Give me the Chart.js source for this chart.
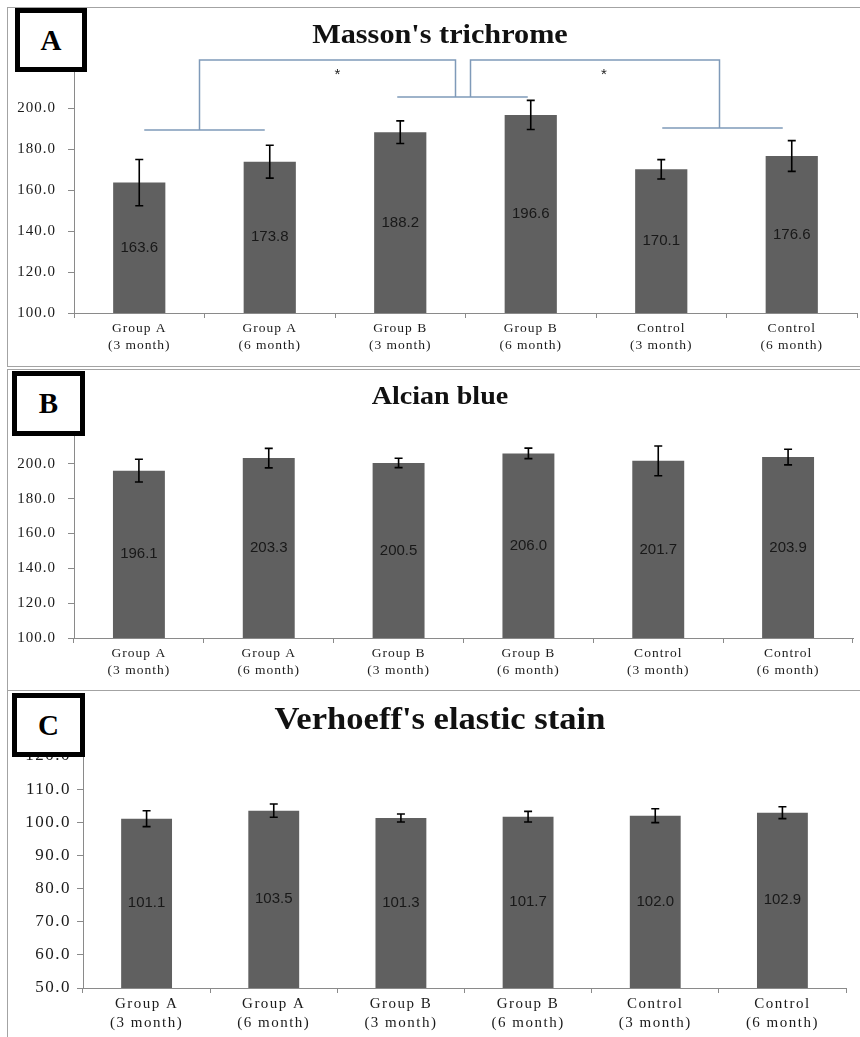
<!DOCTYPE html>
<html>
<head>
<meta charset="utf-8">
<script src="https://cdn.jsdelivr.net/npm/chart.js@4.4.0/dist/chart.umd.min.js"></script>
<style>
  html, body { margin: 0; padding: 0; background: #fff; }
  body { width: 860px; height: 1037px; position: relative; overflow: hidden; }
  .panel { position: absolute; box-sizing: border-box; border: 1px solid #a3a3a3; }
  canvas { position: absolute; }
  .tag {
    position: absolute; box-sizing: border-box; border: 5px solid #000; background: #fff;
    display: flex; align-items: center; justify-content: center;
    font: bold 29px "Liberation Serif", "Times New Roman", serif; line-height: 1; color: #000;
  }
  .title {
    position: absolute; left: 0; width: 880px; text-align: center;
    font-family: "Liberation Serif", "Times New Roman", serif; font-weight: bold;
    color: #111; line-height: 1; transform: scaleX(1.08); transform-origin: 440px 50%;
    white-space: nowrap;
  }
</style>
</head>
<body>
<div class="panel" style="left:7px;top:7px;width:860px;height:360px;"></div>
<div class="panel" style="left:7px;top:369px;width:860px;height:322px;"></div>
<div class="panel" style="left:7px;top:690px;width:860px;height:400px;border-top:none;"></div>

<canvas id="cA" width="852" height="357" style="left:8px;top:8px;"></canvas>
<canvas id="cB" width="852" height="319" style="left:8px;top:370px;"></canvas>
<canvas id="cC" width="852" height="344" style="left:8px;top:693px;"></canvas>

<div class="title" style="top:20px;font-size:28px;">Masson's trichrome</div>
<div class="title" style="top:383px;font-size:26px;">Alcian blue</div>
<div class="title" style="top:702px;font-size:32px;">Verhoeff's elastic stain</div>

<div class="tag" style="left:15px;top:8px;width:72px;height:64px;">A</div>
<div class="tag" style="left:12px;top:371px;width:73px;height:65px;">B</div>
<div class="tag" style="left:12px;top:693px;width:73px;height:64px;">C</div>

<script>
// Groups compared in every stain
const categories = [
  ['Group A', '(3 month)'], ['Group A', '(6 month)'],
  ['Group B', '(3 month)'], ['Group B', '(6 month)'],
  ['Control', '(3 month)'], ['Control', '(6 month)']
];

// Masson's trichrome
const massonMeans = [163.6, 173.8, 188.2, 196.6, 170.1, 176.6];
const massonErr   = [11.3, 8.0, 5.5, 7.1, 4.7, 7.5];

// Alcian blue
const alcianMeans = [196.1, 203.3, 200.5, 206.0, 201.7, 203.9];
const alcianErr   = [6.5, 5.6, 2.7, 3.0, 8.5, 4.5];

// Verhoeff's elastic stain
const verhoeffMeans = [101.1, 103.5, 101.3, 101.7, 102.0, 102.9];
const verhoeffErr   = [2.4, 2.0, 1.2, 1.6, 2.1, 1.8];

// Significance brackets over the Masson's trichrome bars (value-axis units)
const bracketLow = [189.3, 205.4, 190.2];
const bracketTop = 223.4;

const BAR = '#606060';
const AXIS = '#8a8a8a';
const SERIF = '"Liberation Serif", "Times New Roman", serif';
const SANS = '"Liberation Sans", Arial, sans-serif';

const spacingPlugin = {
  id: 'spacing',
  beforeDraw(chart, args, opts) { chart.ctx.letterSpacing = opts.value || '0px'; }
};

// error bars plus the value printed in the middle of every bar
const barExtras = {
  id: 'barExtras',
  afterDatasetsDraw(chart, args, opts) {
    const ctx = chart.ctx;
    const meta = chart.getDatasetMeta(0);
    const y = chart.scales.y;
    const means = chart.data.datasets[0].data;
    const floor = y.getPixelForValue(y.min);
    ctx.save();
    ctx.letterSpacing = '0px';
    ctx.strokeStyle = '#000';
    ctx.lineWidth = 1.6;
    meta.data.forEach((bar, i) => {
      const hi = y.getPixelForValue(means[i] + opts.err[i]);
      const lo = y.getPixelForValue(means[i] - opts.err[i]);
      ctx.beginPath();
      ctx.moveTo(bar.x, hi); ctx.lineTo(bar.x, lo);
      ctx.moveTo(bar.x - 4, hi); ctx.lineTo(bar.x + 4, hi);
      ctx.moveTo(bar.x - 4, lo); ctx.lineTo(bar.x + 4, lo);
      ctx.stroke();
    });
    ctx.fillStyle = '#181818';
    ctx.font = opts.labelFont;
    ctx.textAlign = 'center';
    ctx.textBaseline = 'middle';
    meta.data.forEach((bar, i) => {
      const top = y.getPixelForValue(means[i]);
      ctx.fillText(means[i].toFixed(1), bar.x, (top + floor) / 2);
    });
    ctx.restore();
  }
};

const bracketPlugin = {
  id: 'brackets',
  afterDatasetsDraw(chart) {
    const ctx = chart.ctx;
    const y = chart.scales.y;
    const xs = chart.getDatasetMeta(0).data.map(b => b.x);
    const top = y.getPixelForValue(bracketTop);
    const lowL = y.getPixelForValue(bracketLow[0]);
    const lowM = y.getPixelForValue(bracketLow[1]);
    const lowR = y.getPixelForValue(bracketLow[2]);
    const vL = (xs[0] + xs[1]) / 2 - 5;
    const vM1 = (xs[2] + xs[3]) / 2 - 10;
    const vM2 = (xs[2] + xs[3]) / 2 + 5;
    const vR = (xs[4] + xs[5]) / 2 - 7;
    ctx.save();
    ctx.letterSpacing = '0px';
    ctx.strokeStyle = '#7f9ab9';
    ctx.lineWidth = 1.5;
    ctx.beginPath();
    ctx.moveTo(xs[0] + 5, lowL); ctx.lineTo(xs[1] - 5, lowL);
    ctx.moveTo(vL, lowL); ctx.lineTo(vL, top); ctx.lineTo(vM1, top); ctx.lineTo(vM1, lowM);
    ctx.moveTo(xs[2] - 3, lowM); ctx.lineTo(xs[3] - 3, lowM);
    ctx.moveTo(vM2, lowM); ctx.lineTo(vM2, top); ctx.lineTo(vR, top); ctx.lineTo(vR, lowR);
    ctx.moveTo(xs[4] + 1, lowR); ctx.lineTo(xs[5] - 9, lowR);
    ctx.stroke();
    ctx.fillStyle = '#222';
    ctx.font = '15px ' + SANS;
    ctx.textAlign = 'center';
    ctx.textBaseline = 'middle';
    ctx.fillText('*', (vL + vM1) / 2 + 10, top + 15);
    ctx.fillText('*', (vM2 + vR) / 2 + 9, top + 15);
    ctx.restore();
  }
};

function makeChart(id, means, errs, cfg) {
  const plugins = [spacingPlugin, barExtras];
  if (cfg.brackets) plugins.push(bracketPlugin);
  return new Chart(document.getElementById(id), {
    type: 'bar',
    data: {
      labels: categories,
      datasets: [{ data: means, backgroundColor: BAR, borderWidth: 0,
                   barPercentage: 0.4, categoryPercentage: 1.0 }]
    },
    plugins: plugins,
    options: {
      responsive: false,
      animation: false,
      layout: { padding: { top: cfg.padTop, right: cfg.padRight, left: 0, bottom: 0 } },
      plugins: {
        legend: { display: false },
        tooltip: { enabled: false },
        spacing: { value: cfg.spacing },
        barExtras: { err: errs, labelFont: cfg.labelFont }
      },
      scales: {
        x: {
          grid: { display: true, offset: true, drawOnChartArea: false, drawTicks: true,
                  tickLength: 5, color: AXIS },
          border: { display: true, color: AXIS, width: 1 },
          ticks: { color: '#1a1a1a', padding: 2, maxRotation: 0, autoSkip: false,
                   font: { family: SERIF, size: cfg.xFont, lineHeight: 1.25 } },
          afterFit(scale) { scale.height = cfg.xHeight; }
        },
        y: {
          min: cfg.min, max: cfg.max,
          grid: { display: true, drawOnChartArea: false, drawTicks: true, tickLength: 6, color: AXIS },
          border: { display: true, color: AXIS, width: 1 },
          ticks: { stepSize: cfg.step, color: '#1a1a1a', padding: cfg.yPad,
                   font: { family: SERIF, size: cfg.yFont },
                   callback: v => Number(v).toFixed(1) },
          afterFit(scale) { scale.width = cfg.yWidth; }
        }
      }
    }
  });
}

makeChart('cA', massonMeans, massonErr, {
  min: 100, max: 220, step: 20, padTop: 59, padRight: 3, yWidth: 66, xHeight: 52,
  xFont: 13.5, yFont: 15, yPad: 12, spacing: '1px', labelFont: '15px ' + SANS, brackets: true
});
makeChart('cB', alcianMeans, alcianErr, {
  min: 100, max: 220, step: 20, padTop: 59, padRight: 7, yWidth: 66, xHeight: 51,
  xFont: 13.5, yFont: 15, yPad: 12, spacing: '1px', labelFont: '15px ' + SANS
});
makeChart('cC', verhoeffMeans, verhoeffErr, {
  min: 50, max: 120, step: 10, padTop: 63, padRight: 14, yWidth: 75, xHeight: 49,
  xFont: 15, yFont: 17, yPad: 6, spacing: '1.5px', labelFont: '15px ' + SANS
});
</script>
</body>
</html>
